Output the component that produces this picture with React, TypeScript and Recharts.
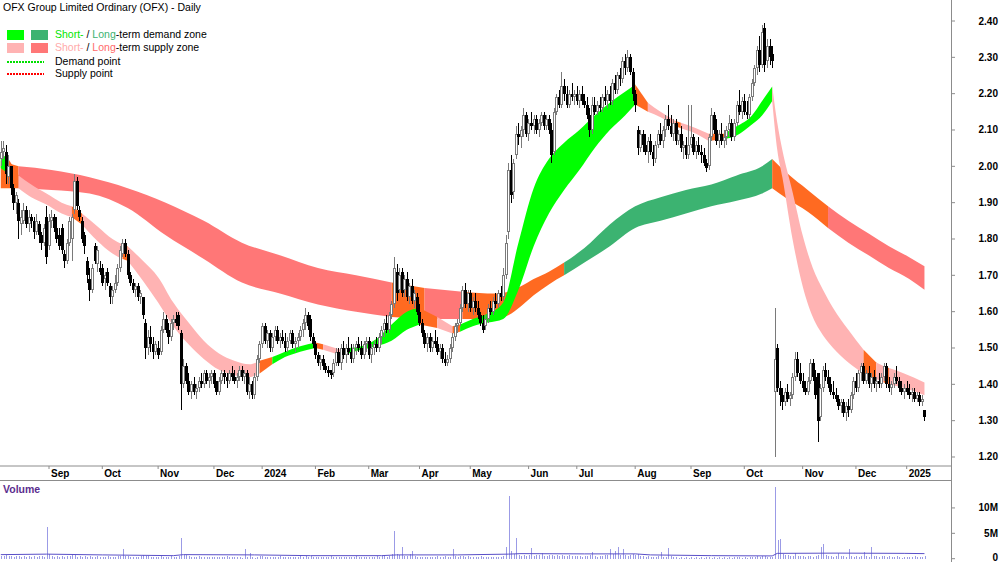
import React from "react";
import { ComposedChart, Bar, Area, Line, XAxis, YAxis } from "recharts";

type Ohlc = [number, number, number, number]; // open, high, low, close

// daily candles, one row per ASX trading day
const aug2023: Ohlc[] = [
  [2.02, 2.07, 2.0, 2.04], [2.04, 2.07, 2.02, 2.05], [2.04, 2.06, 1.95, 1.98], [1.97, 2.03, 1.95, 2.0],
  [2.0, 2.0, 1.92, 1.94], [1.94, 1.95, 1.88, 1.9], [1.9, 1.93, 1.87, 1.92], [1.9, 1.91, 1.8, 1.85],
  [1.84, 1.88, 1.81, 1.86], [1.85, 1.9, 1.84, 1.88], [1.88, 1.89, 1.83, 1.84], [1.84, 1.88, 1.82, 1.86],
  [1.86, 1.87, 1.83, 1.85], [1.85, 1.86, 1.8, 1.82], [1.82, 1.87, 1.81, 1.85], [1.84, 1.85, 1.79, 1.81],
  [1.81, 1.82, 1.77, 1.79], [1.79, 1.84, 1.78, 1.83], [1.86, 1.89, 1.73, 1.75],
];
const sep2023: Ohlc[] = [
  [1.78, 1.87, 1.77, 1.85], [1.85, 1.88, 1.83, 1.86], [1.86, 1.87, 1.82, 1.83], [1.83, 1.86, 1.79, 1.8],
  [1.81, 1.83, 1.77, 1.78], [1.83, 1.84, 1.76, 1.77], [1.76, 1.77, 1.72, 1.74], [1.74, 1.8, 1.73, 1.79],
  [1.79, 1.86, 1.78, 1.85], [1.8, 1.87, 1.74, 1.86], [1.88, 1.98, 1.87, 1.96], [1.96, 1.97, 1.88, 1.89],
  [1.88, 1.89, 1.85, 1.86], [1.85, 1.86, 1.79, 1.8], [1.81, 1.82, 1.76, 1.78], [1.74, 1.75, 1.68, 1.7],
  [1.69, 1.72, 1.63, 1.66], [1.66, 1.73, 1.65, 1.72], [1.78, 1.79, 1.73, 1.74], [1.73, 1.78, 1.71, 1.77],
  [1.72, 1.74, 1.7, 1.71],
];
const oct2023: Ohlc[] = [
  [1.72, 1.73, 1.67, 1.68], [1.69, 1.71, 1.66, 1.7], [1.71, 1.72, 1.67, 1.68], [1.67, 1.68, 1.62, 1.64],
  [1.64, 1.67, 1.62, 1.66], [1.66, 1.7, 1.65, 1.68], [1.68, 1.73, 1.67, 1.72], [1.72, 1.78, 1.71, 1.77],
  [1.76, 1.8, 1.75, 1.79], [1.79, 1.8, 1.75, 1.76], [1.76, 1.77, 1.69, 1.7], [1.7, 1.71, 1.67, 1.68],
  [1.68, 1.69, 1.65, 1.66], [1.66, 1.68, 1.64, 1.67], [1.67, 1.68, 1.63, 1.64], [1.64, 1.66, 1.62, 1.65],
  [1.64, 1.64, 1.58, 1.59], [1.57, 1.58, 1.47, 1.5], [1.5, 1.55, 1.48, 1.53], [1.53, 1.56, 1.49, 1.51],
  [1.51, 1.53, 1.47, 1.49], [1.49, 1.52, 1.48, 1.51],
];
const nov2023: Ohlc[] = [
  [1.5, 1.52, 1.47, 1.48], [1.49, 1.56, 1.48, 1.55], [1.55, 1.6, 1.54, 1.58], [1.58, 1.59, 1.54, 1.55],
  [1.55, 1.57, 1.51, 1.53], [1.53, 1.58, 1.52, 1.57], [1.57, 1.59, 1.55, 1.58], [1.58, 1.6, 1.56, 1.57],
  [1.59, 1.6, 1.55, 1.56], [1.54, 1.55, 1.33, 1.4], [1.4, 1.47, 1.39, 1.45], [1.45, 1.46, 1.4, 1.41],
  [1.41, 1.43, 1.37, 1.38], [1.38, 1.41, 1.36, 1.4], [1.4, 1.42, 1.37, 1.38], [1.38, 1.4, 1.36, 1.39],
  [1.39, 1.42, 1.38, 1.41], [1.41, 1.43, 1.39, 1.4], [1.4, 1.44, 1.39, 1.43], [1.43, 1.44, 1.4, 1.41],
  [1.41, 1.43, 1.39, 1.42], [1.42, 1.44, 1.4, 1.43],
];
const dec2023: Ohlc[] = [
  [1.43, 1.44, 1.39, 1.4], [1.41, 1.41, 1.37, 1.38], [1.38, 1.42, 1.37, 1.41], [1.41, 1.44, 1.4, 1.43],
  [1.43, 1.44, 1.4, 1.42], [1.42, 1.43, 1.39, 1.41], [1.41, 1.44, 1.4, 1.43], [1.43, 1.45, 1.41, 1.42],
  [1.42, 1.44, 1.4, 1.41], [1.41, 1.43, 1.39, 1.42], [1.42, 1.45, 1.41, 1.44], [1.44, 1.45, 1.41, 1.42],
  [1.42, 1.44, 1.4, 1.43], [1.43, 1.44, 1.37, 1.38], [1.38, 1.42, 1.36, 1.4], [1.4, 1.41, 1.36, 1.37],
  [1.37, 1.43, 1.36, 1.42], [1.42, 1.48, 1.41, 1.47], [1.47, 1.52, 1.46, 1.51],
];
const jan2024: Ohlc[] = [
  [1.51, 1.57, 1.5, 1.56], [1.56, 1.57, 1.51, 1.52], [1.52, 1.55, 1.5, 1.54], [1.54, 1.55, 1.49, 1.5],
  [1.5, 1.54, 1.49, 1.53], [1.53, 1.56, 1.52, 1.55], [1.55, 1.56, 1.51, 1.52], [1.52, 1.54, 1.5, 1.53],
  [1.53, 1.55, 1.51, 1.52], [1.52, 1.54, 1.49, 1.5], [1.5, 1.53, 1.49, 1.52], [1.52, 1.55, 1.51, 1.54],
  [1.54, 1.55, 1.5, 1.51], [1.51, 1.53, 1.49, 1.52], [1.52, 1.54, 1.5, 1.53], [1.53, 1.56, 1.52, 1.55],
  [1.55, 1.58, 1.53, 1.57], [1.57, 1.61, 1.55, 1.59], [1.59, 1.6, 1.55, 1.56], [1.58, 1.59, 1.52, 1.53],
  [1.53, 1.54, 1.5, 1.51],
];
const feb2024: Ohlc[] = [
  [1.51, 1.52, 1.47, 1.48], [1.48, 1.49, 1.45, 1.46], [1.46, 1.48, 1.44, 1.47], [1.47, 1.48, 1.44, 1.45],
  [1.45, 1.46, 1.43, 1.44], [1.44, 1.45, 1.42, 1.43], [1.44, 1.44, 1.415, 1.425], [1.43, 1.47, 1.42, 1.46],
  [1.46, 1.5, 1.45, 1.49], [1.49, 1.5, 1.45, 1.46], [1.46, 1.51, 1.44, 1.5], [1.5, 1.52, 1.47, 1.48],
  [1.48, 1.51, 1.46, 1.5], [1.5, 1.53, 1.48, 1.49], [1.49, 1.51, 1.46, 1.47], [1.47, 1.51, 1.46, 1.5],
  [1.5, 1.52, 1.48, 1.51], [1.51, 1.53, 1.49, 1.5], [1.5, 1.52, 1.47, 1.48], [1.48, 1.52, 1.47, 1.51],
  [1.51, 1.53, 1.49, 1.52],
];
const mar2024: Ohlc[] = [
  [1.52, 1.53, 1.47, 1.48], [1.48, 1.51, 1.46, 1.5], [1.5, 1.52, 1.48, 1.51], [1.51, 1.53, 1.49, 1.5],
  [1.5, 1.54, 1.49, 1.53], [1.53, 1.56, 1.51, 1.55], [1.55, 1.58, 1.53, 1.57], [1.57, 1.59, 1.54, 1.55],
  [1.55, 1.6, 1.54, 1.59], [1.59, 1.63, 1.58, 1.62], [1.62, 1.75, 1.61, 1.72], [1.71, 1.73, 1.63, 1.65],
  [1.66, 1.72, 1.65, 1.7], [1.71, 1.72, 1.64, 1.65], [1.66, 1.7, 1.64, 1.69], [1.69, 1.71, 1.63, 1.64],
  [1.64, 1.68, 1.62, 1.67], [1.67, 1.69, 1.62, 1.63], [1.63, 1.66, 1.61, 1.65], [1.64, 1.65, 1.59, 1.6],
];
const apr2024: Ohlc[] = [
  [1.6, 1.62, 1.56, 1.57], [1.57, 1.58, 1.53, 1.54], [1.54, 1.55, 1.5, 1.51], [1.51, 1.54, 1.49, 1.53],
  [1.53, 1.54, 1.49, 1.5], [1.5, 1.53, 1.49, 1.52], [1.52, 1.55, 1.5, 1.51], [1.51, 1.53, 1.48, 1.49],
  [1.49, 1.51, 1.47, 1.5], [1.5, 1.51, 1.46, 1.47], [1.47, 1.49, 1.45, 1.46], [1.46, 1.48, 1.45, 1.47],
  [1.47, 1.51, 1.46, 1.5], [1.5, 1.54, 1.49, 1.53], [1.53, 1.57, 1.52, 1.56], [1.56, 1.58, 1.54, 1.57],
  [1.57, 1.62, 1.56, 1.61], [1.61, 1.67, 1.6, 1.66], [1.66, 1.68, 1.61, 1.62], [1.62, 1.66, 1.6, 1.65],
];
const may2024: Ohlc[] = [
  [1.65, 1.66, 1.6, 1.61], [1.61, 1.64, 1.59, 1.63], [1.63, 1.65, 1.6, 1.61], [1.61, 1.63, 1.58, 1.59],
  [1.59, 1.6, 1.56, 1.57], [1.57, 1.59, 1.54, 1.55], [1.56, 1.59, 1.55, 1.58], [1.58, 1.62, 1.57, 1.61],
  [1.61, 1.63, 1.59, 1.6], [1.6, 1.64, 1.59, 1.63], [1.63, 1.65, 1.61, 1.62], [1.62, 1.66, 1.61, 1.65],
  [1.65, 1.67, 1.63, 1.64], [1.64, 1.72, 1.63, 1.7], [1.7, 1.81, 1.69, 1.79], [1.82, 2.01, 1.8, 1.99],
  [1.99, 2.03, 1.9, 1.92], [1.93, 2.02, 1.91, 2.01], [2.03, 2.11, 2.02, 2.09], [2.09, 2.12, 2.06, 2.08],
  [2.08, 2.11, 2.05, 2.1], [2.1, 2.16, 2.08, 2.14], [2.14, 2.15, 2.08, 2.09],
];
const jun2024: Ohlc[] = [
  [2.09, 2.13, 2.07, 2.12], [2.12, 2.15, 2.1, 2.11], [2.11, 2.14, 2.09, 2.13], [2.13, 2.14, 2.09, 2.1],
  [2.1, 2.13, 2.08, 2.12], [2.12, 2.15, 2.11, 2.14], [2.14, 2.15, 2.1, 2.11], [2.11, 2.14, 2.1, 2.13],
  [2.13, 2.14, 2.09, 2.1], [2.1, 2.12, 2.01, 2.03], [2.04, 2.16, 2.03, 2.15], [2.15, 2.2, 2.14, 2.19],
  [2.19, 2.21, 2.16, 2.17], [2.17, 2.26, 2.16, 2.22], [2.22, 2.24, 2.18, 2.2], [2.2, 2.22, 2.16, 2.17],
  [2.17, 2.21, 2.16, 2.2], [2.2, 2.23, 2.18, 2.19], [2.19, 2.21, 2.17, 2.2],
];
const jul2024: Ohlc[] = [
  [2.2, 2.22, 2.17, 2.18], [2.18, 2.21, 2.16, 2.2], [2.2, 2.22, 2.17, 2.18], [2.18, 2.2, 2.16, 2.17],
  [2.17, 2.19, 2.13, 2.14], [2.14, 2.16, 2.08, 2.1], [2.1, 2.19, 2.09, 2.17], [2.17, 2.19, 2.14, 2.15],
  [2.15, 2.18, 2.14, 2.17], [2.17, 2.19, 2.15, 2.16], [2.16, 2.2, 2.15, 2.19], [2.19, 2.22, 2.17, 2.18],
  [2.18, 2.21, 2.16, 2.2], [2.2, 2.22, 2.17, 2.18], [2.18, 2.24, 2.17, 2.23], [2.23, 2.25, 2.2, 2.21],
  [2.21, 2.26, 2.2, 2.25], [2.25, 2.27, 2.22, 2.24], [2.24, 2.3, 2.23, 2.29], [2.29, 2.31, 2.25, 2.27],
  [2.27, 2.32, 2.26, 2.3], [2.3, 2.31, 2.25, 2.26], [2.26, 2.27, 2.18, 2.2],
];
const aug2024: Ohlc[] = [
  [2.2, 2.21, 2.15, 2.17], [2.1, 2.11, 2.03, 2.05], [2.05, 2.1, 2.04, 2.09], [2.09, 2.1, 2.04, 2.06],
  [2.06, 2.09, 2.03, 2.04], [2.04, 2.08, 2.01, 2.07], [2.07, 2.09, 2.03, 2.04], [2.04, 2.06, 2.0, 2.02],
  [2.02, 2.07, 2.01, 2.06], [2.06, 2.1, 2.05, 2.09], [2.09, 2.12, 2.06, 2.07], [2.07, 2.11, 2.05, 2.1],
  [2.1, 2.14, 2.08, 2.13], [2.13, 2.17, 2.1, 2.11], [2.11, 2.14, 2.08, 2.09], [2.09, 2.13, 2.07, 2.12],
  [2.12, 2.13, 2.06, 2.07], [2.07, 2.1, 2.06, 2.09], [2.09, 2.11, 2.04, 2.05], [2.05, 2.07, 2.02, 2.06],
  [2.06, 2.08, 2.02, 2.03], [2.03, 2.17, 2.02, 2.06],
];
const sep2024: Ohlc[] = [
  [2.06, 2.17, 2.05, 2.08], [2.08, 2.09, 2.03, 2.04], [2.04, 2.07, 2.02, 2.06], [2.06, 2.08, 2.03, 2.04],
  [2.04, 2.06, 2.01, 2.03], [2.03, 2.05, 2.0, 2.01], [2.01, 2.02, 1.985, 1.995], [2.0, 2.09, 1.99, 2.08],
  [2.08, 2.16, 2.07, 2.14], [2.14, 2.15, 2.09, 2.1], [2.1, 2.13, 2.06, 2.07], [2.07, 2.1, 2.05, 2.09],
  [2.09, 2.12, 2.06, 2.07], [2.07, 2.1, 2.05, 2.08], [2.08, 2.11, 2.06, 2.1], [2.1, 2.14, 2.08, 2.12],
  [2.12, 2.13, 2.07, 2.08], [2.08, 2.13, 2.07, 2.12], [2.12, 2.18, 2.11, 2.17], [2.17, 2.21, 2.14, 2.15],
  [2.15, 2.19, 2.13, 2.18],
];
const oct2024: Ohlc[] = [
  [2.18, 2.2, 2.14, 2.15], [2.15, 2.18, 2.13, 2.14], [2.14, 2.2, 2.13, 2.19], [2.19, 2.24, 2.18, 2.23],
  [2.23, 2.28, 2.22, 2.27], [2.27, 2.33, 2.25, 2.32], [2.32, 2.36, 2.26, 2.28], [2.28, 2.39, 2.27, 2.37],
  [2.38, 2.395, 2.26, 2.28], [2.29, 2.35, 2.27, 2.33], [2.33, 2.35, 2.28, 2.3], [2.31, 2.33, 2.27, 2.29],
  [1.38, 1.61, 1.2, 1.47], [1.5, 1.51, 1.38, 1.39], [1.39, 1.41, 1.34, 1.37], [1.37, 1.39, 1.33, 1.35],
  [1.35, 1.39, 1.34, 1.38], [1.38, 1.4, 1.35, 1.36], [1.36, 1.38, 1.34, 1.37], [1.37, 1.43, 1.36, 1.42],
  [1.42, 1.49, 1.41, 1.47], [1.47, 1.49, 1.42, 1.43], [1.43, 1.46, 1.4, 1.41],
];
const nov2024: Ohlc[] = [
  [1.41, 1.43, 1.38, 1.39], [1.39, 1.41, 1.37, 1.38], [1.38, 1.42, 1.37, 1.41], [1.41, 1.47, 1.4, 1.46],
  [1.46, 1.47, 1.41, 1.42], [1.42, 1.44, 1.36, 1.37], [1.43, 1.43, 1.24, 1.3], [1.31, 1.4, 1.3, 1.39],
  [1.39, 1.45, 1.38, 1.44], [1.44, 1.46, 1.41, 1.42], [1.42, 1.44, 1.39, 1.4], [1.4, 1.42, 1.37, 1.38],
  [1.38, 1.41, 1.36, 1.37], [1.37, 1.39, 1.35, 1.36], [1.36, 1.37, 1.33, 1.34], [1.34, 1.36, 1.32, 1.35],
  [1.35, 1.36, 1.31, 1.32], [1.32, 1.35, 1.3, 1.34], [1.34, 1.36, 1.31, 1.33], [1.33, 1.38, 1.32, 1.37],
  [1.37, 1.42, 1.36, 1.41],
];
const dec2024: Ohlc[] = [
  [1.41, 1.43, 1.38, 1.39], [1.39, 1.44, 1.38, 1.43], [1.43, 1.46, 1.41, 1.45], [1.45, 1.46, 1.4, 1.41],
  [1.41, 1.44, 1.4, 1.43], [1.43, 1.45, 1.39, 1.4], [1.4, 1.43, 1.38, 1.42], [1.42, 1.44, 1.39, 1.4],
  [1.4, 1.42, 1.38, 1.41], [1.41, 1.43, 1.39, 1.4], [1.4, 1.43, 1.39, 1.42], [1.42, 1.46, 1.41, 1.45],
  [1.45, 1.46, 1.39, 1.4], [1.4, 1.42, 1.38, 1.39], [1.39, 1.41, 1.37, 1.4], [1.4, 1.43, 1.39, 1.42],
  [1.42, 1.45, 1.4, 1.41], [1.41, 1.42, 1.38, 1.39], [1.39, 1.41, 1.37, 1.38], [1.38, 1.4, 1.36, 1.39],
];
const jan2025: Ohlc[] = [
  [1.39, 1.41, 1.37, 1.38], [1.38, 1.4, 1.36, 1.37], [1.37, 1.39, 1.35, 1.38], [1.38, 1.39, 1.35, 1.36],
  [1.36, 1.38, 1.35, 1.37], [1.37, 1.38, 1.34, 1.35], [1.35, 1.37, 1.34, 1.36], [1.33, 1.33, 1.3, 1.31],
];

// daily volume, millions of shares
const volumes = [
  0.6, 0.5, 0.7, 0.5, 0.6, 0.4, 0.5, 0.6, 0.4, 0.5, 0.4, 0.6, 0.3, 0.5, 0.4, 0.5, 0.6, 0.4, 6.2,
  0.9, 0.5, 0.4, 0.6, 0.3, 0.5, 0.4, 0.5, 0.6, 0.8, 0.7, 0.4, 0.5, 0.3, 0.6, 0.4, 0.5, 0.3, 0.4, 0.5, 0.3,
  0.4, 0.3, 0.5, 0.4, 0.3, 0.4, 0.5, 0.6, 1.9, 0.5, 0.6, 0.4, 0.3, 0.4, 0.3, 0.5, 0.7, 0.6, 0.5, 0.4, 0.3, 0.4,
  0.4, 0.5, 0.4, 0.3, 0.4, 0.5, 0.3, 0.4, 0.5, 4.1, 0.8, 0.7, 0.6, 0.4, 0.3, 0.4, 0.5, 0.3, 0.4, 0.3, 0.4, 0.3,
  0.3, 0.4, 0.3, 0.4, 0.3, 0.5, 0.3, 0.4, 0.3, 0.4, 0.3, 0.2, 1.9, 0.4, 1.2, 0.3, 0.2, 0.4, 0.5,
  0.5, 0.4, 0.3, 0.4, 0.3, 0.4, 0.3, 0.5, 0.3, 0.4, 0.3, 0.3, 0.4, 0.3, 0.4, 0.5, 0.4, 0.6, 0.4, 0.5, 0.3,
  0.4, 0.3, 0.4, 0.3, 0.4, 0.3, 0.5, 0.4, 0.3, 0.4, 0.3, 0.4, 0.3, 0.4, 0.3, 0.4, 0.5, 0.3, 0.4, 0.3, 0.4,
  0.4, 0.3, 0.4, 0.5, 0.4, 0.6, 0.5, 0.4, 0.6, 1.0, 5.4, 0.9, 0.7, 2.3, 0.6, 0.5, 1.0, 1.6, 0.5, 0.4,
  0.4, 0.3, 0.4, 0.3, 0.4, 0.3, 0.4, 0.5, 0.3, 0.4, 0.5, 0.4, 0.3, 1.9, 0.5, 0.4, 0.5, 0.6, 0.4, 0.5,
  0.4, 0.3, 0.4, 0.3, 0.5, 0.4, 0.3, 0.4, 0.3, 0.4, 0.3, 0.4, 0.3, 0.6, 2.4, 12.3, 1.5, 0.9, 4.1, 0.8, 0.6, 0.7, 0.6,
  0.7, 2.1, 0.6, 0.8, 0.7, 1.2, 0.6, 0.5, 0.7, 0.8, 0.6, 0.7, 0.5, 0.8, 0.6, 0.5, 0.7, 0.6, 0.5,
  0.5, 0.6, 0.4, 0.5, 0.6, 0.8, 1.3, 0.5, 0.4, 0.6, 0.5, 0.7, 0.8, 2.0, 0.9, 1.5, 2.3, 0.8, 1.9, 0.7, 0.6, 0.8, 0.9,
  0.8, 0.9, 0.6, 0.5, 0.4, 0.5, 0.4, 0.3, 0.4, 0.5, 1.4, 0.4, 0.3, 2.1, 0.5, 0.4, 0.3, 0.2, 0.3, 0.2, 0.3, 0.2,
  0.3, 0.2, 0.3, 0.2, 0.3, 0.2, 0.4, 0.3, 0.2, 0.3, 0.2, 0.3, 0.2, 0.3, 0.2, 0.3, 0.2, 0.3, 0.4, 0.3, 0.2,
  0.3, 0.2, 0.3, 0.4, 0.3, 0.5, 0.4, 0.6, 0.5, 0.4, 0.3, 0.4, 14.1, 3.6, 3.9, 0.9, 0.8, 0.7, 0.6, 0.5, 1.1, 0.6, 0.5,
  0.5, 0.4, 0.6, 0.5, 0.4, 0.6, 0.8, 2.4, 2.9, 0.7, 0.5, 0.6, 0.4, 0.5, 1.1, 0.6, 0.5, 0.4, 1.9, 0.5, 0.4,
  0.5, 0.4, 0.6, 1.3, 0.5, 0.4, 2.4, 0.6, 0.5, 0.4, 0.5, 0.6, 0.4, 0.5, 0.3, 0.4, 0.5, 0.3, 0.2, 0.3,
  0.3, 0.4, 0.3, 0.5, 0.3, 0.4, 0.3, 0.5,
];

// volume average line (day index, millions)
const volAvgIdx = [0, 18, 40, 68, 72, 100, 122, 150, 156, 180, 200, 205, 230, 250, 256, 280, 304, 306, 330, 356, 364];
const volAvgVal = [0.8, 0.9, 0.75, 0.6, 0.8, 0.75, 0.6, 0.6, 0.75, 0.75, 0.9, 1.0, 0.95, 0.95, 0.75, 0.6, 0.55, 1.05, 1.1, 1.05, 1.0];

// axis ticks: first trading day of each month
const monthTicks = [19, 40, 62, 84, 103, 124, 145, 165, 185, 208, 227, 250, 272, 293, 316, 337, 357];
const monthLabels = ["Sep", "Oct", "Nov", "Dec", "2024", "Feb", "Mar", "Apr", "May", "Jun", "Jul", "Aug", "Sep", "Oct", "Nov", "Dec", "2025"];
const priceTicks = [1.2, 1.3, 1.4, 1.5, 1.6, 1.7, 1.8, 1.9, 2.0, 2.1, 2.2, 2.3, 2.4];
const volumeTicks = [0, 5, 10];
const volumeTickLabels = ["0", "5M", "10M"];

// short-term zone edges
const shortIdx = [0, 3, 7, 12, 18, 24, 28, 32, 38, 44, 48, 50, 56, 62, 68, 74, 80, 86, 92, 98, 102, 107, 112, 118, 124, 127, 134, 137, 142, 148, 154, 160, 165, 172, 178, 181, 186, 192, 198, 204, 210, 216, 222, 228, 234, 240, 246, 250, 255, 260, 266, 268, 274, 279, 285, 290, 296, 300, 304, 306, 308, 312, 316, 320, 324, 328, 334, 340, 345, 348, 350, 356, 364];
const shortHi = [2.035, 2.02, 1.975, 1.95, 1.925, 1.9, 1.89, 1.87, 1.835, 1.8, 1.785, 1.78, 1.74, 1.695, 1.625, 1.57, 1.52, 1.485, 1.465, 1.455, 1.465, 1.475, 1.49, 1.505, 1.515, 1.51, 1.495, 1.5, 1.505, 1.525, 1.565, 1.6, 1.61, 1.585, 1.56, 1.565, 1.58, 1.595, 1.625, 1.79, 1.94, 2.02, 2.065, 2.1, 2.14, 2.175, 2.205, 2.225, 2.175, 2.15, 2.125, 2.12, 2.105, 2.09, 2.09, 2.11, 2.14, 2.18, 2.22, 2.12, 2.045, 1.93, 1.81, 1.72, 1.66, 1.61, 1.55, 1.495, 1.46, 1.45, 1.445, 1.43, 1.405];
const shortLo = [1.995, 1.98, 1.94, 1.915, 1.895, 1.87, 1.86, 1.84, 1.795, 1.76, 1.745, 1.74, 1.685, 1.625, 1.56, 1.51, 1.47, 1.44, 1.425, 1.42, 1.43, 1.455, 1.475, 1.49, 1.5, 1.495, 1.48, 1.485, 1.495, 1.505, 1.52, 1.55, 1.565, 1.555, 1.54, 1.545, 1.56, 1.57, 1.58, 1.66, 1.78, 1.87, 1.935, 1.99, 2.05, 2.1, 2.14, 2.17, 2.15, 2.135, 2.11, 2.105, 2.09, 2.07, 2.075, 2.085, 2.115, 2.14, 2.18, 2.045, 1.97, 1.8, 1.67, 1.585, 1.535, 1.5, 1.46, 1.43, 1.415, 1.405, 1.4, 1.39, 1.37];
const shortRuns: [number, number, string][] = [
  [0, 3, "demand"], [3, 7, "mixed"], [7, 28, "supply"], [28, 32, "mixed"], [32, 48, "supply"], [48, 50, "mixed"],
  [50, 102, "supply"], [102, 107, "mixed"], [107, 124, "demand"], [124, 127, "mixed"], [127, 134, "supply"],
  [134, 137, "mixed"], [137, 165, "demand"], [165, 172, "mixed"], [172, 178, "supply"], [178, 181, "mixed"],
  [181, 250, "demand"], [250, 255, "mixed"], [255, 266, "supply"], [266, 268, "mixed"], [268, 279, "supply"],
  [279, 285, "mixed"], [285, 304, "demand"], [304, 340, "supply"], [340, 345, "mixed"], [345, 348, "supply"],
  [348, 350, "mixed"], [350, 364, "supply"],
];

// long-term zone edges
const longIdx = [0, 7, 20, 35, 50, 65, 80, 95, 110, 125, 140, 154, 167, 182, 195, 200, 205, 210, 216, 222, 230, 240, 250, 260, 270, 280, 290, 300, 304, 310, 318, 326, 334, 342, 350, 358, 364];
const longHi = [2.015, 2.0, 1.99, 1.97, 1.94, 1.9, 1.85, 1.79, 1.755, 1.72, 1.7, 1.68, 1.665, 1.655, 1.65, 1.655, 1.67, 1.69, 1.71, 1.735, 1.775, 1.84, 1.89, 1.915, 1.935, 1.95, 1.975, 2.0, 2.02, 1.98, 1.935, 1.89, 1.85, 1.815, 1.78, 1.75, 1.725];
const longLo = [1.94, 1.94, 1.935, 1.925, 1.885, 1.81, 1.745, 1.68, 1.65, 1.62, 1.6, 1.585, 1.58, 1.58, 1.58, 1.59, 1.615, 1.645, 1.675, 1.7, 1.735, 1.78, 1.83, 1.85, 1.87, 1.89, 1.905, 1.925, 1.94, 1.91, 1.875, 1.83, 1.79, 1.755, 1.72, 1.69, 1.66];
const longRuns: [number, number, string][] = [
  [0, 7, "mixed"], [7, 154, "supply"], [154, 167, "mixed"], [167, 182, "supply"],
  [182, 222, "mixed"], [222, 304, "demand"], [304, 326, "mixed"], [326, 364, "supply"],
];

const FONT = '"Liberation Sans", Arial, Helvetica, sans-serif';
const AXIS = "#8c8c8c";
const colors = {
  shortDemand: "#00ff00",
  longDemand: "#3cb371",
  shortSupply: "#ffb3b3",
  longSupply: "#ff7777",
  mixed: "#ff6a21",
};

const X_MIN = -0.31;
const X_MAX = 374.46;

const ohlc = [
  ...aug2023, ...sep2023, ...oct2023, ...nov2023, ...dec2023, ...jan2024, ...feb2024, ...mar2024, ...apr2024,
  ...may2024, ...jun2024, ...jul2024, ...aug2024, ...sep2024, ...oct2024, ...nov2024, ...dec2024, ...jan2025,
];
const candles = ohlc.map(([o, h, l, c], i) => ({ i, o, h, l, c }));
const volumeRows = volumes.map((v, i) => ({ i, v }));
const volAvg = volAvgIdx.map((i, k) => ({ i, v: volAvgVal[k] }));

const buildZone = (idx: number[], hi: number[], lo: number[], runs: [number, number, string][], demand: string, supply: string) =>
  runs.map(([from, to, kind]) => ({
    color: kind === "demand" ? demand : kind === "supply" ? supply : colors.mixed,
    points: idx.map((i, k) => ({ i, hi: hi[k], lo: lo[k] })).filter((p) => p.i >= from && p.i <= to),
  }));

const longZone = buildZone(longIdx, longHi, longLo, longRuns, colors.longDemand, colors.longSupply);
const shortZone = buildZone(shortIdx, shortHi, shortLo, shortRuns, colors.shortDemand, colors.shortSupply);

const Candle = (props: any) => {
  const { x, y, width, height, payload } = props;
  if (!payload || !isFinite(x) || !isFinite(y)) return null;
  const { o, h, l, c } = payload;
  const k = height / (h - l);
  const py = (v: number) => y + (h - v) * k;
  const col = Math.round(x + width / 2);
  const up = c >= o;
  const color = up ? "#7a7a7a" : "#000";
  const top = Math.round(py(Math.max(o, c)));
  const bot = Math.max(top + 1, Math.round(py(Math.min(o, c))));
  return (
    <g shapeRendering="crispEdges">
      <line x1={col + 0.5} x2={col + 0.5} y1={y} y2={y + height} stroke={color} strokeWidth={1} />
      <rect x={col - 1} y={top} width={3} height={bot - top} fill={color} />
      {up && bot - top > 2 && <rect x={col} y={top + 1} width={1} height={bot - top - 2} fill="#fff" />}
    </g>
  );
};

const VolumeBar = (props: any) => {
  const { x, y, width, height } = props;
  if (!isFinite(x) || !isFinite(y) || height <= 0) return null;
  return <rect x={Math.round(x + width / 2)} y={y} width={1} height={height} fill="#9b9be6" shapeRendering="crispEdges" />;
};

const MonthTick = (props: any) => {
  const { x, payload } = props;
  const k = monthTicks.indexOf(payload.value);
  return (
    <text x={x + 2} y={477} fontFamily={FONT} fontSize={10} fontWeight="bold" fill="#000" textAnchor="start">
      {monthLabels[k]}
    </text>
  );
};

const PriceTick = (props: any) => {
  const { y, payload } = props;
  return (
    <text x={998} y={y + 3.5} fontFamily={FONT} fontSize={10} fontWeight="bold" fill="#000" textAnchor="end">
      {Number(payload.value).toFixed(2)}
    </text>
  );
};

const VolumeTick = (props: any) => {
  const { y, payload } = props;
  const k = volumeTicks.indexOf(payload.value);
  return (
    <text x={998} y={Math.min(y + 3.5, 80.5)} fontFamily={FONT} fontSize={10} fontWeight="bold" fill="#000" textAnchor="end">
      {volumeTickLabels[k]}
    </text>
  );
};

const abs = (left: number, top: number, extra: React.CSSProperties = {}): React.CSSProperties => ({
  position: "absolute",
  left,
  top,
  ...extra,
});

export default function App() {
  return (
    <div style={{ position: "absolute", left: 0, top: 0, width: 1000, height: 562, background: "#fff", overflow: "hidden", fontFamily: FONT }}>
      <div style={abs(0, 0)}>
        <ComposedChart width={1000} height={480} data={candles} margin={{ top: 0, right: 0, bottom: 0, left: 0 }}>
          <XAxis
            dataKey="i"
            type="number"
            domain={[X_MIN, X_MAX]}
            allowDataOverflow
            ticks={monthTicks}
            interval={0}
            height={14}
            tickSize={3}
            axisLine={{ stroke: AXIS }}
            tickLine={{ stroke: AXIS }}
            tick={<MonthTick />}
          />
          <YAxis
            orientation="right"
            domain={[1.1752, 2.4578]}
            allowDataOverflow
            ticks={priceTicks}
            interval={0}
            width={49}
            axisLine={false}
            tickSize={4}
            tickLine={{ stroke: AXIS }}
            tick={<PriceTick />}
          />
          {longZone.map((seg, n) => (
            <Area
              key={`long-${n}`}
              data={seg.points}
              dataKey={(d: any) => [d.lo, d.hi]}
              type="monotone"
              stroke="none"
              fill={seg.color}
              fillOpacity={1}
              dot={false}
              activeDot={false}
              isAnimationActive={false}
            />
          ))}
          {shortZone.map((seg, n) => (
            <Area
              key={`short-${n}`}
              data={seg.points}
              dataKey={(d: any) => [d.lo, d.hi]}
              type="monotone"
              stroke="none"
              fill={seg.color}
              fillOpacity={1}
              dot={false}
              activeDot={false}
              isAnimationActive={false}
            />
          ))}
          <Bar dataKey={(d: any) => [d.l, d.h]} barSize={3} shape={(p: any) => <Candle {...p} />} isAnimationActive={false} />
        </ComposedChart>
      </div>

      <div style={abs(0, 480)}>
        <ComposedChart width={1000} height={82} data={volumeRows} margin={{ top: 0, right: 0, bottom: 0, left: 0 }}>
          <XAxis dataKey="i" type="number" domain={[X_MIN, X_MAX]} allowDataOverflow hide />
          <YAxis
            orientation="right"
            domain={[-0.65, 15.5]}
            allowDataOverflow
            ticks={volumeTicks}
            interval={0}
            width={49}
            axisLine={false}
            tickSize={4}
            tickLine={{ stroke: AXIS }}
            tick={<VolumeTick />}
          />
          <Bar dataKey="v" barSize={1} shape={(p: any) => <VolumeBar {...p} />} isAnimationActive={false} />
          <Line data={volAvg} dataKey="v" type="linear" stroke="#5a50c8" strokeWidth={1} dot={false} activeDot={false} isAnimationActive={false} />
        </ComposedChart>
      </div>

      {/* panel frame */}
      <div style={abs(951, 0, { width: 1, height: 562, background: AXIS })} />
      <div style={abs(0, 480, { width: 952, height: 1, background: AXIS })} />

      {/* title and legend */}
      <div style={abs(3, 1, { fontSize: 10.5, lineHeight: "13px", whiteSpace: "nowrap", color: "#000" })}>
        OFX Group Limited Ordinary (OFX) - Daily
      </div>
      <div style={abs(7, 30, { width: 17, height: 10, background: colors.shortDemand })} />
      <div style={abs(31, 30, { width: 17, height: 10, background: colors.longDemand })} />
      <div style={abs(55, 28, { fontSize: 10.5, lineHeight: "13px", whiteSpace: "nowrap", color: "#000" })}>
        <span style={{ color: "#00e600" }}>Short-</span> / <span style={{ color: colors.longDemand }}>Long</span>-term demand zone
      </div>
      <div style={abs(7, 43, { width: 17, height: 10, background: colors.shortSupply })} />
      <div style={abs(31, 43, { width: 17, height: 10, background: colors.longSupply })} />
      <div style={abs(55, 41, { fontSize: 10.5, lineHeight: "13px", whiteSpace: "nowrap", color: "#000" })}>
        <span style={{ color: "#ffaaaa" }}>Short-</span> / <span style={{ color: "#ff6b6b" }}>Long</span>-term supply zone
      </div>
      <div
        style={abs(7, 61, {
          width: 37,
          height: 2,
          background: "repeating-linear-gradient(to right, #00e000 0 2px, transparent 2px 3px)",
        })}
      />
      <div style={abs(55, 55, { fontSize: 10.5, lineHeight: "13px", whiteSpace: "nowrap", color: "#000" })}>Demand point</div>
      <div
        style={abs(7, 73, {
          width: 37,
          height: 2,
          background: "repeating-linear-gradient(to right, #ff0000 0 2px, transparent 2px 3px)",
        })}
      />
      <div style={abs(55, 67, { fontSize: 10.5, lineHeight: "13px", whiteSpace: "nowrap", color: "#000" })}>Supply point</div>

      <div style={abs(3, 483, { fontSize: 10.5, lineHeight: "13px", fontWeight: "bold", color: "#5b2d8e" })}>Volume</div>
    </div>
  );
}
